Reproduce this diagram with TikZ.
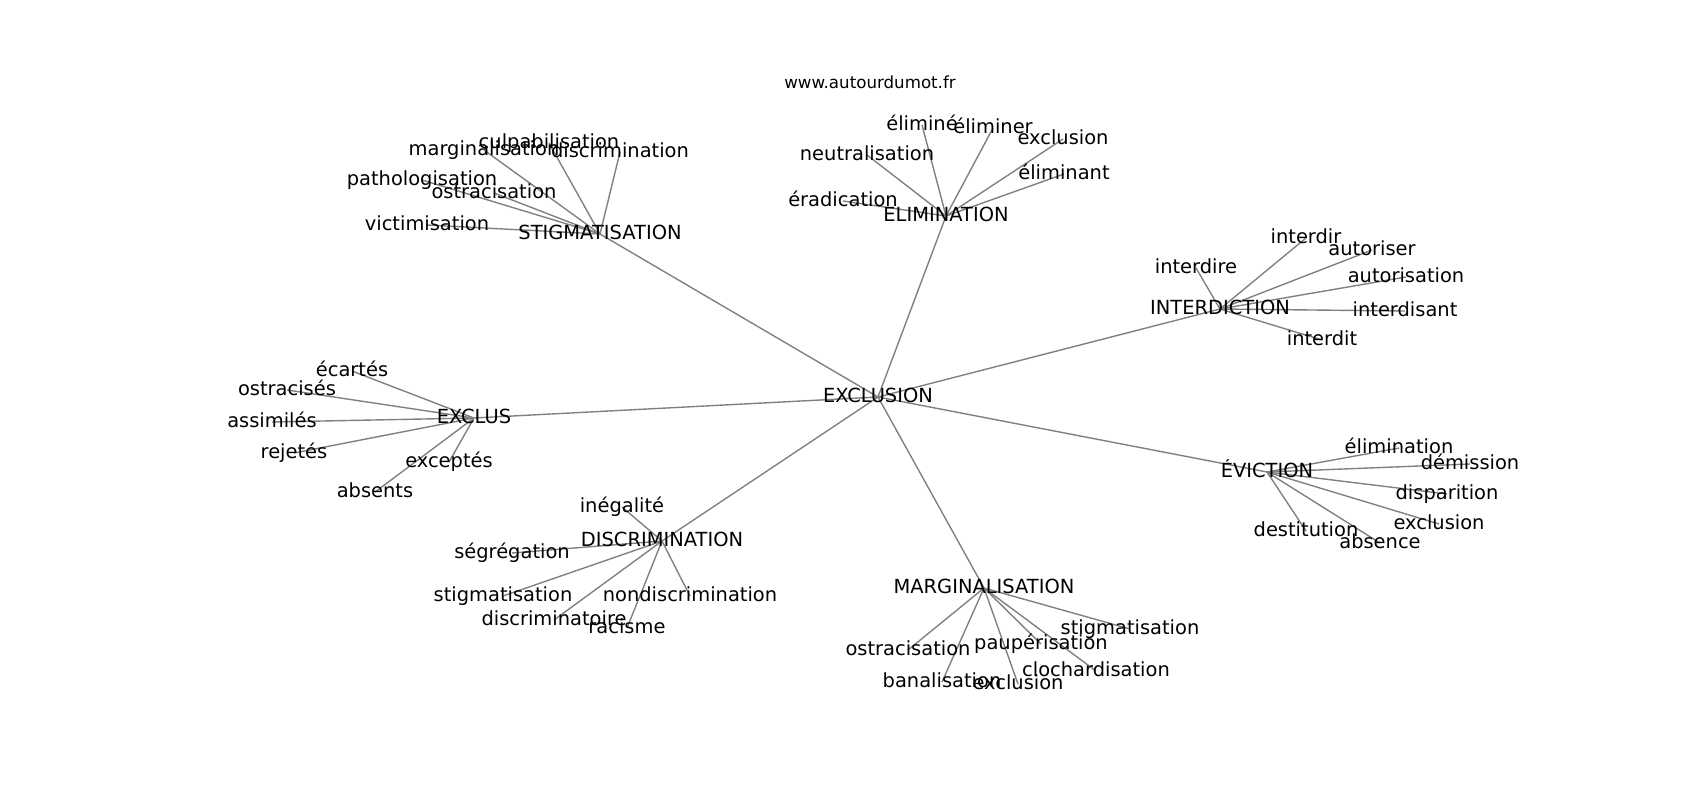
\documentclass[tikz,border=0pt]{standalone}
\usepackage{fontspec}
\setmainfont{DejaVu Sans}
\usetikzlibrary{backgrounds}
\begin{document}
\begin{tikzpicture}[x=0.72pt,y=-0.72pt,
  lbl/.style={inner sep=0pt,outer sep=0pt,text height=1.02em,text depth=0.22em,
    font=\fontsize{14}{16}\selectfont,text=black},
  ttl/.style={inner sep=0pt,outer sep=0pt,text height=0.76em,text depth=0.24em,
    font=\fontsize{12}{14}\selectfont,text=black},
  edge/.style={draw=gray,line width=1bp}]
\useasboundingbox (0,0) rectangle (1700,800);
\node[ttl] (title) at (870,85) {www.autourdumot.fr};
% hubs
\node[lbl] (ex) at (878,397) {EXCLUSION};
\node[lbl] (st) at (600,234) {STIGMATISATION};
\node[lbl] (el) at (946,216) {ELIMINATION};
\node[lbl] (in) at (1220,309) {INTERDICTION};
\node[lbl] (xs) at (474,418) {EXCLUS};
\node[lbl] (di) at (662,541) {DISCRIMINATION};
\node[lbl] (ma) at (984,588) {MARGINALISATION};
\node[lbl] (ev) at (1267,472) {ÉVICTION};
% STIGMATISATION
\node[lbl] (st1) at (484,150) {marginalisation};
\node[lbl] (st2) at (549,143) {culpabilisation};
\node[lbl] (st3) at (620,152) {discrimination};
\node[lbl] (st4) at (422,180) {pathologisation};
\node[lbl] (st5) at (494,193) {ostracisation};
\node[lbl] (st6) at (427,225) {victimisation};
% ELIMINATION
\node[lbl] (el1) at (922,125) {éliminé};
\node[lbl] (el2) at (993,128) {éliminer};
\node[lbl] (el3) at (1063,139) {exclusion};
\node[lbl] (el4) at (1064,174) {éliminant};
\node[lbl] (el5) at (867,155) {neutralisation};
\node[lbl] (el6) at (843,201) {éradication};
% INTERDICTION
\node[lbl] (in1) at (1306,238) {interdir};
\node[lbl] (in2) at (1372,250) {autoriser};
\node[lbl] (in3) at (1196,268) {interdire};
\node[lbl] (in4) at (1406,277) {autorisation};
\node[lbl] (in5) at (1405,311) {interdisant};
\node[lbl] (in6) at (1322,340) {interdit};
% EXCLUS
\node[lbl] (xs1) at (352,371) {écartés};
\node[lbl] (xs2) at (287,390) {ostracisés};
\node[lbl] (xs3) at (272,422) {assimilés};
\node[lbl] (xs4) at (294,453) {rejetés};
\node[lbl] (xs5) at (449,462) {exceptés};
\node[lbl] (xs6) at (375,492) {absents};
% DISCRIMINATION
\node[lbl] (di1) at (622,507) {inégalité};
\node[lbl] (di2) at (512,553) {ségrégation};
\node[lbl] (di3) at (503,596) {stigmatisation};
\node[lbl] (di4) at (690,596) {nondiscrimination};
\node[lbl] (di5) at (554,620) {discriminatoire};
\node[lbl] (di6) at (627,628) {racisme};
% MARGINALISATION
\node[lbl] (ma1) at (1130,629) {stigmatisation};
\node[lbl] (ma2) at (908,650) {ostracisation};
\node[lbl] (ma3) at (1041,644) {paupérisation};
\node[lbl] (ma4) at (1096,671) {clochardisation};
\node[lbl] (ma5) at (942,682) {banalisation};
\node[lbl] (ma6) at (1018,684) {exclusion};
% EVICTION
\node[lbl] (ev1) at (1399,448) {élimination};
\node[lbl] (ev2) at (1470,464) {démission};
\node[lbl] (ev3) at (1447,494) {disparition};
\node[lbl] (ev4) at (1439,524) {exclusion};
\node[lbl] (ev5) at (1306,531) {destitution};
\node[lbl] (ev6) at (1380,543) {absence};
\begin{scope}[on background layer]
\foreach \h in {st,el,in,xs,di,ma,ev}{
  \draw[edge] (ex.center) -- (\h.center);
  \foreach \i in {1,...,6}{
    \draw[edge] (\h.center) -- (\h\i.center);
  }
}
\end{scope}
\end{tikzpicture}
\end{document}
